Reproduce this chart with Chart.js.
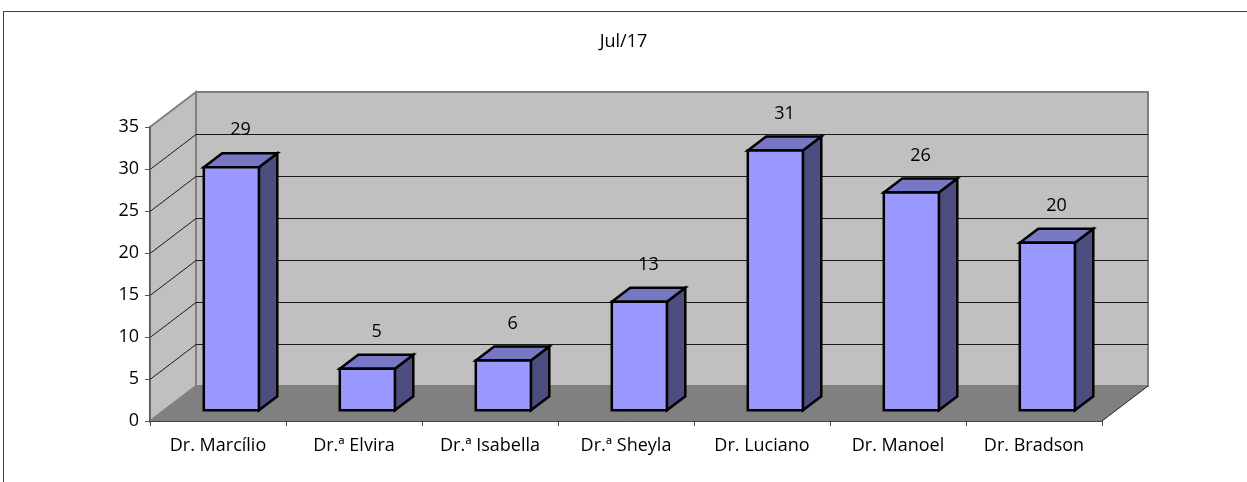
<!DOCTYPE html>
<html>
<head>
<meta charset="utf-8">
<script src="https://cdn.jsdelivr.net/npm/chart.js@4.4.1/dist/chart.umd.min.js"></script>
<style>
  html, body { margin: 0; padding: 0; background: #ffffff; }
  #wrap { position: relative; width: 1247px; height: 482px; }
</style>
</head>
<body>
<div id="wrap"><canvas id="c"></canvas></div>
<script>
const chartTitle = 'Jul/17';
const categories = ['Dr. Marcílio', 'Dr.ª Elvira', 'Dr.ª Isabella', 'Dr.ª Sheyla', 'Dr. Luciano', 'Dr. Manoel', 'Dr. Bradson'];
const values = [29, 5, 6, 13, 31, 26, 20];
const yMin = 0, yMax = 35, yStep = 5;

const FONT = 'Open Sans';
const FONT_SIZE = 18;
const DEPTH = { x: 46, y: -35 };      // wall depth vector
const BAR_FRONT = 0.29, BAR_BACK = 0.69; // bar depth fractions

const threeD = {
  id: 'threeD',
  beforeDraw(chart) {
    const ctx = chart.ctx;
    const a = chart.chartArea;
    const ys = chart.scales.y;
    const dx = DEPTH.x, dy = DEPTH.y;
    ctx.save();
    // outer frame
    ctx.strokeStyle = '#404040';
    ctx.lineWidth = 1;
    ctx.strokeRect(3.5, 11.5, 1260, 500);

    // side wall
    ctx.fillStyle = '#c0c0c0';
    ctx.strokeStyle = '#808080';
    ctx.lineWidth = 2;
    ctx.beginPath();
    ctx.moveTo(a.left, a.bottom);
    ctx.lineTo(a.left, a.top);
    ctx.lineTo(a.left + dx, a.top + dy);
    ctx.lineTo(a.left + dx, a.bottom + dy);
    ctx.closePath();
    ctx.fill(); ctx.stroke();
    // back wall
    ctx.beginPath();
    ctx.rect(a.left + dx, a.top + dy, a.right - a.left, a.bottom - a.top);
    ctx.fill(); ctx.stroke();
    // floor
    ctx.fillStyle = '#808080';
    ctx.beginPath();
    ctx.moveTo(a.left, a.bottom);
    ctx.lineTo(a.right, a.bottom);
    ctx.lineTo(a.right + dx, a.bottom + dy);
    ctx.lineTo(a.left + dx, a.bottom + dy);
    ctx.closePath();
    ctx.fill();
    ctx.strokeStyle = '#202020';
    ctx.lineWidth = 1;
    ctx.beginPath();
    ctx.moveTo(a.right, a.bottom);
    ctx.lineTo(a.right + dx, a.bottom + dy);
    ctx.stroke();

    // gridlines
    ctx.strokeStyle = '#1a1a1a';
    ctx.lineWidth = 1;
    ys.ticks.forEach(t => {
      if (t.value <= yMin || t.value >= yMax) return;
      const py = Math.round(ys.getPixelForValue(t.value)) + 0.5;
      ctx.beginPath();
      ctx.moveTo(a.left, py);
      ctx.lineTo(a.left + dx, py + dy);
      ctx.lineTo(a.right + dx, py + dy);
      ctx.stroke();
    });
    ctx.restore();
  },
  afterDatasetsDraw(chart) {
    const ctx = chart.ctx;
    const meta = chart.getDatasetMeta(0);
    const fx = DEPTH.x * BAR_FRONT, fy = DEPTH.y * BAR_FRONT;
    const bx = DEPTH.x * (BAR_BACK - BAR_FRONT), by = DEPTH.y * (BAR_BACK - BAR_FRONT);
    ctx.save();
    ctx.lineWidth = 2.5;
    ctx.lineJoin = 'miter';
    ctx.strokeStyle = '#000000';
    meta.data.forEach((el, i) => {
      const x1 = el.x - el.width / 2 + fx;
      const x2 = el.x + el.width / 2 + fx;
      const top = el.y + fy;
      const bot = el.base + fy;
      // side
      ctx.fillStyle = '#4d4d80';
      ctx.beginPath();
      ctx.moveTo(x2, top); ctx.lineTo(x2 + bx, top + by);
      ctx.lineTo(x2 + bx, bot + by); ctx.lineTo(x2, bot);
      ctx.closePath(); ctx.fill(); ctx.stroke();
      // top
      ctx.fillStyle = '#7777c4';
      ctx.beginPath();
      ctx.moveTo(x1, top); ctx.lineTo(x2, top);
      ctx.lineTo(x2 + bx, top + by); ctx.lineTo(x1 + bx, top + by);
      ctx.closePath(); ctx.fill(); ctx.stroke();
      // front
      ctx.fillStyle = '#9999ff';
      ctx.beginPath();
      ctx.rect(x1, top, x2 - x1, bot - top);
      ctx.fill(); ctx.stroke();
      // value label
      ctx.fillStyle = '#000000';
      ctx.font = FONT_SIZE + 'px "' + FONT + '"';
      ctx.textAlign = 'center';
      ctx.textBaseline = 'middle';
      ctx.fillText(String(values[i]), el.x + fx + bx / 2, top - 37);
    });
    ctx.restore();
  }
};

new Chart(document.getElementById('c'), {
  type: 'bar',
  data: {
    labels: categories,
    datasets: [{
      data: values,
      backgroundColor: 'rgba(0,0,0,0)',
      borderWidth: 0,
      barPercentage: 0.405,
      categoryPercentage: 1.0
    }]
  },
  options: {
    responsive: true,
    maintainAspectRatio: false,
    animation: false,
    layout: { padding: 0 },
    plugins: {
      legend: { display: false },
      tooltip: { enabled: false },
      title: {
        display: true,
        text: chartTitle,
        color: '#000000',
        font: { family: FONT, size: FONT_SIZE, weight: 'normal', lineHeight: 1.2 },
        padding: { top: 31, bottom: 74.4 }
      }
    },
    scales: {
      x: {
        grid: { display: true, drawOnChartArea: false, tickLength: 5, color: '#404040', offset: true },
        border: { display: true, color: '#404040', width: 1 },
        ticks: { color: '#000000', font: { family: FONT, size: FONT_SIZE }, padding: 9, maxRotation: 0, autoSkip: false },
        afterFit(s) { s.height = 61; }
      },
      y: {
        min: yMin, max: yMax,
        grid: { display: true, drawOnChartArea: false, tickLength: 5, color: '#595959' },
        border: { display: true, color: '#595959', width: 1.5 },
        ticks: { stepSize: yStep, color: '#000000', font: { family: FONT, size: FONT_SIZE }, padding: 6 },
        afterFit(s) { s.width = 150; }
      },
      yRight: {
        position: 'right',
        min: yMin, max: yMax,
        grid: { display: false },
        border: { display: false },
        ticks: { display: false },
        afterFit(s) { s.width = 145; }
      }
    }
  },
  plugins: [threeD]
});
</script>
</body>
</html>
